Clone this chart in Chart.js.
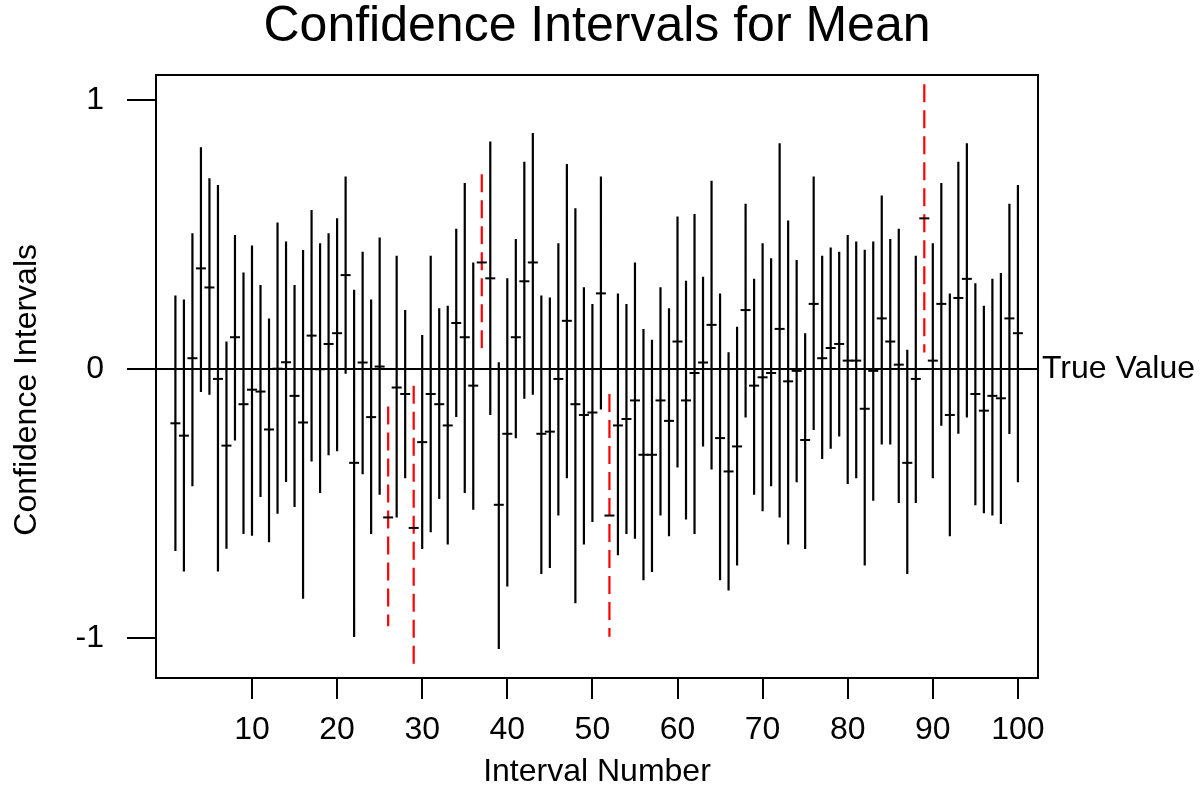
<!DOCTYPE html>
<html lang="en">
<head>
<meta charset="UTF-8" />
<title>Confidence Intervals for Mean</title>
<script src="https://cdn.jsdelivr.net/npm/chart.js"></script>
<style>
  html, body { margin: 0; padding: 0; background: #fff; }
  #wrap { width: 1203px; height: 789px; }
</style>
</head>
<body>
<div id="wrap"><canvas id="ci-chart"></canvas></div>
<script>
// interval numbers (x axis)
const intervalNumbers = [
  1, 2, 3, 4, 5, 6, 7, 8, 9, 10, 11, 12, 13, 14, 15, 16, 17, 18, 19, 20,
  21, 22, 23, 24, 25, 26, 27, 28, 29, 30, 31, 32, 33, 34, 35, 36, 37, 38, 39, 40,
  41, 42, 43, 44, 45, 46, 47, 48, 49, 50, 51, 52, 53, 54, 55, 56, 57, 58, 59, 60,
  61, 62, 63, 64, 65, 66, 67, 68, 69, 70, 71, 72, 73, 74, 75, 76, 77, 78, 79, 80,
  81, 82, 83, 84, 85, 86, 87, 88, 89, 90, 91, 92, 93, 94, 95, 96, 97, 98, 99, 100
];

const upperBounds = [
  0.273, 0.258, 0.505, 0.824, 0.709, 0.684, 0.102, 0.498, 0.359, 0.459,
  0.312, 0.188, 0.545, 0.474, 0.312, 0.442, 0.591, 0.467, 0.505, 0.560,
  0.716, 0.295, 0.436, 0.258, 0.489, -0.140, 0.421, 0.219, -0.062, 0.126,
  0.421, 0.226, 0.235, 0.521, 0.691, 0.396, 0.724, 0.846, 0.025, 0.337,
  0.483, 0.770, 0.877, 0.273, 0.266, 0.467, 0.762, 0.598, 0.304, 0.242,
  0.716, -0.093, 0.281, 0.242, 0.396, 0.149, 0.109, 0.304, 0.226, 0.567,
  0.328, 0.576, 0.343, 0.700, 0.281, 0.062, 0.157, 0.614, 0.335, 0.467,
  0.412, 0.839, 0.552, 0.405, 0.133, 0.716, 0.421, 0.452, 0.436, 0.498,
  0.474, 0.443, 0.474, 0.645, 0.483, 0.521, 0.071, 0.421, 1.059, 0.467,
  0.691, 0.281, 0.770, 0.839, 0.319, 0.235, 0.335, 0.357, 0.614, 0.684
];

const means = [
  -0.202, -0.248, 0.040, 0.374, 0.303, -0.037, -0.285, 0.118, -0.131, -0.077,
  -0.084, -0.225, 0.001, 0.025, -0.100, -0.199, 0.124, -0.001, 0.093, 0.133,
  0.349, -0.349, 0.024, -0.179, 0.009, -0.552, -0.069, -0.093, -0.591, -0.272,
  -0.093, -0.131, -0.210, 0.171, 0.118, -0.062, 0.396, 0.337, -0.505, -0.241,
  0.118, 0.326, 0.396, -0.241, -0.233, -0.037, 0.179, -0.131, -0.171, -0.162,
  0.281, -0.545, -0.210, -0.186, -0.117, -0.319, -0.319, -0.117, -0.193, 0.102,
  -0.117, -0.015, 0.024, 0.164, -0.257, -0.381, -0.288, 0.219, -0.062, -0.031,
  -0.015, 0.149, -0.046, -0.007, -0.264, 0.242, 0.040, 0.078, 0.093, 0.031,
  0.031, -0.148, -0.007, 0.188, 0.102, 0.016, -0.349, -0.037, 0.560, 0.031,
  0.242, -0.171, 0.264, 0.335, -0.093, -0.155, -0.100, -0.109, 0.188, 0.133
];

const lowerBounds = [
  -0.677, -0.753, -0.436, -0.086, -0.096, -0.753, -0.668, -0.266, -0.614, -0.620,
  -0.476, -0.644, -0.538, -0.420, -0.513, -0.854, -0.344, -0.461, -0.321, -0.306,
  -0.018, -0.997, -0.391, -0.614, -0.468, -0.957, -0.552, -0.406, -1.120, -0.669,
  -0.607, -0.483, -0.653, -0.179, -0.461, -0.523, 0.068, -0.171, -1.041, -0.809,
  -0.258, -0.111, -0.096, -0.762, -0.740, -0.545, -0.406, -0.871, -0.653, -0.569,
  -0.151, -0.996, -0.693, -0.614, -0.631, -0.786, -0.755, -0.545, -0.622, -0.366,
  -0.560, -0.614, -0.288, -0.374, -0.786, -0.824, -0.731, -0.180, -0.468, -0.529,
  -0.436, -0.552, -0.653, -0.421, -0.669, -0.227, -0.335, -0.297, -0.251, -0.428,
  -0.406, -0.731, -0.490, -0.281, -0.281, -0.498, -0.762, -0.498, 0.061, -0.406,
  -0.211, -0.622, -0.241, -0.180, -0.507, -0.536, -0.545, -0.576, -0.242, -0.421
];

const trueValue = 0;
const xTicks = [10, 20, 30, 40, 50, 60, 70, 80, 90, 100];
const yTicks = [-1, 0, 1];

Chart.defaults.font.family = '"Liberation Sans", Arial, sans-serif';
Chart.defaults.color = '#000';

// interval misses the true value -> red dashed
const misses = (i) => lowerBounds[i] > trueValue || upperBounds[i] < trueValue;

// one line dataset, each interval a separate piece split by a null point
function intervalSegments(keep) {
  const pts = [];
  intervalNumbers.forEach((n, i) => {
    if (!keep(i)) return;
    pts.push({ x: n, y: upperBounds[i] }, { x: n, y: lowerBounds[i] }, { x: n, y: null });
  });
  return pts;
}

const yMin = -1.149, yMax = 1.093;

// box round the plot area
const framePlugin = {
  id: "frame",
  afterDatasetsDraw(chart) {
    const { ctx, chartArea: a } = chart;
    ctx.save();
    ctx.strokeStyle = "#000";
    ctx.lineWidth = 2;
    ctx.strokeRect(a.left, a.top, a.right - a.left, a.bottom - a.top);
    ctx.restore();
  },
};

new Chart(document.getElementById("ci-chart"), {
  type: "line",
  data: {
    datasets: [
      {
        label: "Mean",
        type: "scatter",
        data: intervalNumbers.map((n, i) => ({ x: n, y: means[i] })),
        pointStyle: "line",
        pointRadius: 5,
        borderWidth: 2,
        borderColor: "#000",
        backgroundColor: "#000",
      },
      {
        label: "Intervals",
        data: intervalSegments((i) => !misses(i)),
        borderColor: "#000",
        borderWidth: 2.2,
        pointRadius: 0,
        spanGaps: false,
        fill: false,
      },
      {
        label: "Misses",
        data: intervalSegments(misses),
        borderColor: "#ff0000",
        borderWidth: 2.2,
        borderDash: [18, 8],
        pointRadius: 0,
        spanGaps: false,
        fill: false,
      },
    ],
  },
  options: {
    responsive: true,
    maintainAspectRatio: false,
    animation: false,
    layout: { padding: 0 },
    plugins: {
      legend: { display: false },
      tooltip: { enabled: false },
      title: {
        display: true,
        text: "Confidence Intervals for Mean",
        fullSize: false,
        color: "#000",
        font: { size: 50, weight: "normal", lineHeight: 1.1 },
        padding: { top: 0, bottom: 20 },
      },
    },
    scales: {
      x: {
        type: "linear",
        min: -1.28,
        max: 102.36,
        afterBuildTicks: (s) => { s.ticks = xTicks.map((v) => ({ value: v })); },
        afterFit: (s) => { s.height = 111; },
        border: { display: false },
        grid: { drawOnChartArea: false, tickLength: 21, lineWidth: 2, color: "#000", tickColor: "#000" },
        ticks: { padding: 12, font: { size: 32 }, maxRotation: 0, autoSkip: false },
        title: {
          display: true,
          text: "Interval Number",
          font: { size: 32, lineHeight: 1.05 },
          padding: { top: 0, bottom: 0 },
        },
      },
      y: {
        min: yMin,
        max: yMax,
        afterBuildTicks: (s) => { s.ticks = yTicks.map((v) => ({ value: v })); },
        afterFit: (s) => { s.width = 156; },
        border: { display: false },
        grid: {
          color: (c) => (c.tick && c.tick.value === trueValue ? "#000" : "rgba(0,0,0,0)"),
          tickColor: "#000",
          tickLength: 29,
          lineWidth: 2,
        },
        ticks: { padding: 23, font: { size: 32 } },
        title: {
          display: true,
          // trailing spaces push the centred label a little down, as in the original
          text: "Confidence Intervals   ",
          font: { size: 32, lineHeight: 1.1 },
          padding: { top: 10, bottom: 0 },
        },
      },
      y2: {
        position: "right",
        min: yMin,
        max: yMax,
        afterBuildTicks: (s) => { s.ticks = [{ value: trueValue }]; },
        afterFit: (s) => { s.width = 165; },
        border: { display: false },
        grid: { display: false, drawTicks: false },
        ticks: { padding: 4, font: { size: 32 }, callback: () => "True Value" },
      },
    },
  },
  plugins: [framePlugin],
});
</script>
</body>
</html>
